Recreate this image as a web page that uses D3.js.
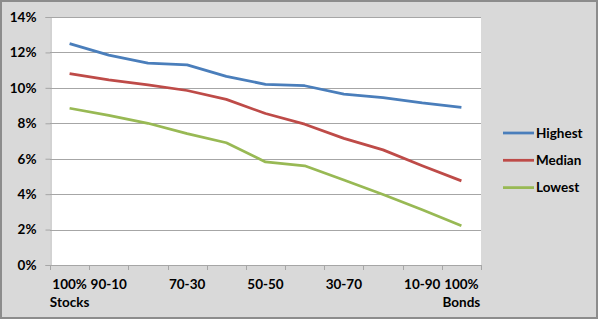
<!DOCTYPE html>
<html>
<head>
<meta charset="utf-8">
<script src="https://cdn.jsdelivr.net/npm/d3@7"></script>
<style>
  html, body { margin: 0; padding: 0; background: #fff; }
  svg { display: block; font-family: Lato, "Liberation Sans", sans-serif; font-weight: bold; }
</style>
</head>
<body>
<svg id="chart" width="599" height="321"></svg>
<script>
// ==========================================
// DATA
// ==========================================
const categories = ['100% Stocks', '90-10', '80-20', '70-30', '60-40', '50-50',
                    '40-60', '30-70', '20-80', '10-90', '100% Bonds'];
// only some categories get a label on the axis
const tickLabels = [['100%', 'Stocks'], ['90-10'], [], ['70-30'], [], ['50-50'],
                    [], ['30-70'], [], ['10-90'], ['100%', 'Bonds']];
const highest = [12.5, 11.85, 11.4, 11.3, 10.65, 10.2, 10.12, 9.65, 9.45, 9.15, 8.9];
const median  = [10.8, 10.45, 10.17, 9.85, 9.35, 8.55, 7.95, 7.15, 6.5, 5.6, 4.75];
const lowest  = [8.85, 8.45, 8.0, 7.42, 6.9, 5.82, 5.6, 4.8, 3.98, 3.12, 2.22];
const yTicks = [0, 2, 4, 6, 8, 10, 12, 14];

const series = [
  { name: 'Highest', values: highest, color: '#4a7ebb' },
  { name: 'Median',  values: median,  color: '#be4b48' },
  { name: 'Lowest',  values: lowest,  color: '#98b954' }
];

const FONT_SIZE = '13.5px';

// ==========================================
// LAYOUT
// ==========================================
const svg = d3.select('#chart');
const plot = { left: 50, right: 481, top: 17, bottom: 265 };

// frame
svg.append('rect')
  .attr('x', 1).attr('y', 1)
  .attr('width', 596).attr('height', 317)
  .attr('fill', '#d9d9d9')
  .attr('stroke', '#8c8c8c')
  .attr('stroke-width', 2);

svg.append('rect')
  .attr('x', plot.left).attr('y', plot.top)
  .attr('width', plot.right - plot.left).attr('height', plot.bottom - plot.top)
  .attr('fill', '#fff');

const x = d3.scaleBand().domain(categories).range([plot.left, plot.right]);
const y = d3.scaleLinear().domain([0, 14]).range([plot.bottom, plot.top]);

// gridlines
svg.append('g')
  .selectAll('line')
  .data(yTicks.filter(d => d > 0))
  .join('line')
  .attr('x1', plot.left).attr('x2', plot.right)
  .attr('y1', d => Math.round(y(d)) + 0.5).attr('y2', d => Math.round(y(d)) + 0.5)
  .attr('stroke', '#a6a6a6')
  .attr('stroke-width', 1);

// y axis
const yAxis = svg.append('g')
  .attr('transform', `translate(${plot.left + 0.5},0)`)
  .call(d3.axisLeft(y).tickValues(yTicks).tickSize(5).tickPadding(9).tickFormat(d => d + '%'));
yAxis.select('.domain').attr('stroke', '#a6a6a6');
yAxis.selectAll('.tick line').attr('stroke', '#a6a6a6');
yAxis.selectAll('text')
  .attr('fill', '#000')
  .style('font-size', FONT_SIZE)
  .style('font-family', 'Lato, "Liberation Sans", sans-serif')
  .style('font-weight', 'bold');

// x axis: ticks at band boundaries
const boundaries = categories.map(c => x(c)).concat([x.range()[1]]);
const xAxis = svg.append('g');
xAxis.append('line')
  .attr('x1', plot.left).attr('x2', plot.right)
  .attr('y1', plot.bottom + 0.5).attr('y2', plot.bottom + 0.5)
  .attr('stroke', '#a6a6a6');
xAxis.selectAll('line.tick')
  .data(boundaries)
  .join('line')
  .attr('class', 'tick')
  .attr('x1', d => Math.round(d) + 0.5).attr('x2', d => Math.round(d) + 0.5)
  .attr('y1', plot.bottom).attr('y2', plot.bottom + 5)
  .attr('stroke', '#a6a6a6');

const labelGroups = xAxis.selectAll('text.xlabel')
  .data(categories)
  .join('text')
  .attr('class', 'xlabel')
  .attr('text-anchor', 'middle')
  .attr('font-size', FONT_SIZE)
  .attr('fill', '#000');
labelGroups.selectAll('tspan')
  .data((d, i) => tickLabels[i].map(t => ({ t, c: d })))
  .join('tspan')
  .attr('x', d => x(d.c) + x.bandwidth() / 2)
  .attr('y', (d, j) => 289 + j * 18)
  .text(d => d.t);

// lines
const line = d3.line()
  .x((d, i) => x(categories[i]) + x.bandwidth() / 2)
  .y(d => y(d));

svg.append('g')
  .selectAll('path')
  .data(series)
  .join('path')
  .attr('d', d => line(d.values))
  .attr('fill', 'none')
  .attr('stroke', d => d.color)
  .attr('stroke-width', 2.75)
  .attr('stroke-linejoin', 'round');

// legend
const legend = svg.append('g')
  .selectAll('g')
  .data(series)
  .join('g')
  .attr('transform', (d, i) => `translate(503,${133 + i * 27.3})`);
legend.append('line')
  .attr('x1', 0).attr('x2', 31)
  .attr('stroke', d => d.color)
  .attr('stroke-width', 2.75);
legend.append('text')
  .attr('x', 33).attr('dy', '0.35em')
  .attr('font-size', FONT_SIZE)
  .attr('fill', '#000')
  .text(d => d.name);
</script>
</body>
</html>
